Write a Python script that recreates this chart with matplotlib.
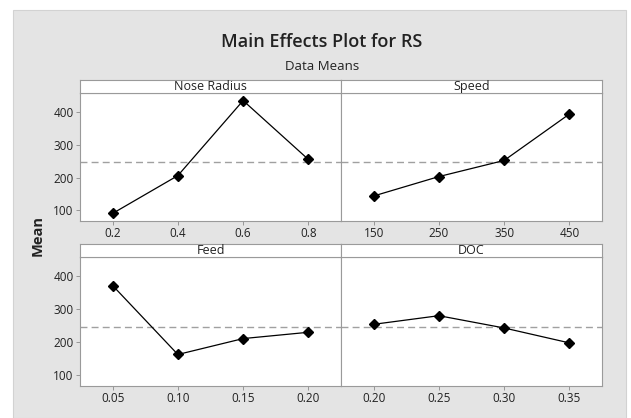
import matplotlib.pyplot as plt
from matplotlib.patches import Rectangle

# ---------------- data ----------------
nose_levels = ["0.2", "0.4", "0.6", "0.8"]
nose_means = [91, 206, 434, 255]

speed_levels = ["150", "250", "350", "450"]
speed_means = [144, 203, 252, 393]

feed_levels = ["0.05", "0.10", "0.15", "0.20"]
feed_means = [371, 163, 211, 230]

doc_levels = ["0.20", "0.25", "0.30", "0.35"]
doc_means = [254, 280, 243, 198]

grand_mean = 246
y_ticks = [100, 200, 300, 400]

plt.rcParams['font.family'] = ['Open Sans', 'DejaVu Sans']

BG = '#e4e4e4'
EDGE = '#9a9a9a'
TXT = '#222222'


def draw_panel(fig, rect, strip_h, name, levels, means, show_y):
    """one facet: strip with the factor name and the mean line below it"""
    left, bottom, width, height = rect
    ax = fig.add_axes([left, bottom, width, height])
    strip = fig.add_axes([left, bottom + height, width, strip_h])

    # strip on top
    strip.set_xticks([])
    strip.set_yticks([])
    strip.set_facecolor('white')
    for sp in strip.spines.values():
        sp.set_color(EDGE)
        sp.set_linewidth(0.8)
    strip.text(0.5, 0.5, name, ha='center', va='center', fontsize=9,
               color=TXT, transform=strip.transAxes)

    x = list(range(len(levels)))
    ax.axhline(grand_mean, color='#a0a0a0', lw=1.0, ls=(0, (5, 3)), zorder=1)
    ax.plot(x, means, color='black', lw=0.9, marker='D', markersize=5.2,
            markerfacecolor='black', markeredgecolor='black', zorder=3)

    ax.set_xlim(-0.5, len(levels) - 0.5)
    ax.set_ylim(68, 457)
    ax.set_xticks(x)
    ax.set_xticklabels(levels)
    ax.set_yticks(y_ticks)
    if not show_y:
        ax.tick_params(axis='y', left=False, labelleft=False)
    ax.tick_params(colors='#8a8a8a', labelcolor=TXT, labelsize=8.5,
                   length=3, width=0.6, pad=1.5)
    ax.set_facecolor('white')
    for sp in ax.spines.values():
        sp.set_color(EDGE)
        sp.set_linewidth(0.8)
    return ax


fig = plt.figure(figsize=(6.31, 4.18), dpi=100)
fig.patch.set_facecolor('white')

# grey frame behind everything
fig.patches.append(Rectangle((13 / 631, 0), 613 / 631, 408 / 418,
                             transform=fig.transFigure, facecolor=BG,
                             edgecolor='#d2d2d2', lw=0.8, zorder=-5))

fw, fh = 631.0, 418.0
pw = 261 / fw
sh = 13 / fh

# top row
draw_panel(fig, [80 / fw, 1 - 221 / fh, pw, 128 / fh], sh,
           "Nose Radius", nose_levels, nose_means, True)
draw_panel(fig, [341 / fw, 1 - 221 / fh, pw, 128 / fh], sh,
           "Speed", speed_levels, speed_means, False)

# bottom row
draw_panel(fig, [80 / fw, 1 - 386 / fh, pw, 129 / fh], sh,
           "Feed", feed_levels, feed_means, True)
draw_panel(fig, [341 / fw, 1 - 386 / fh, pw, 129 / fh], sh,
           "DOC", doc_levels, doc_means, False)

fig.text(322 / fw, 1 - 42 / fh, "Main Effects Plot for RS", ha='center',
         va='center', fontsize=13, fontweight='semibold', color=TXT)
fig.text(322 / fw, 1 - 66 / fh, "Data Means", ha='center', va='center',
         fontsize=9.5, color=TXT)
fig.text(38 / fw, 1 - 236 / fh, "Mean", ha='center', va='center',
         rotation=90, fontsize=10.5, fontweight='bold', color=TXT)

fig.savefig('out.png', dpi=100, facecolor=fig.get_facecolor())
